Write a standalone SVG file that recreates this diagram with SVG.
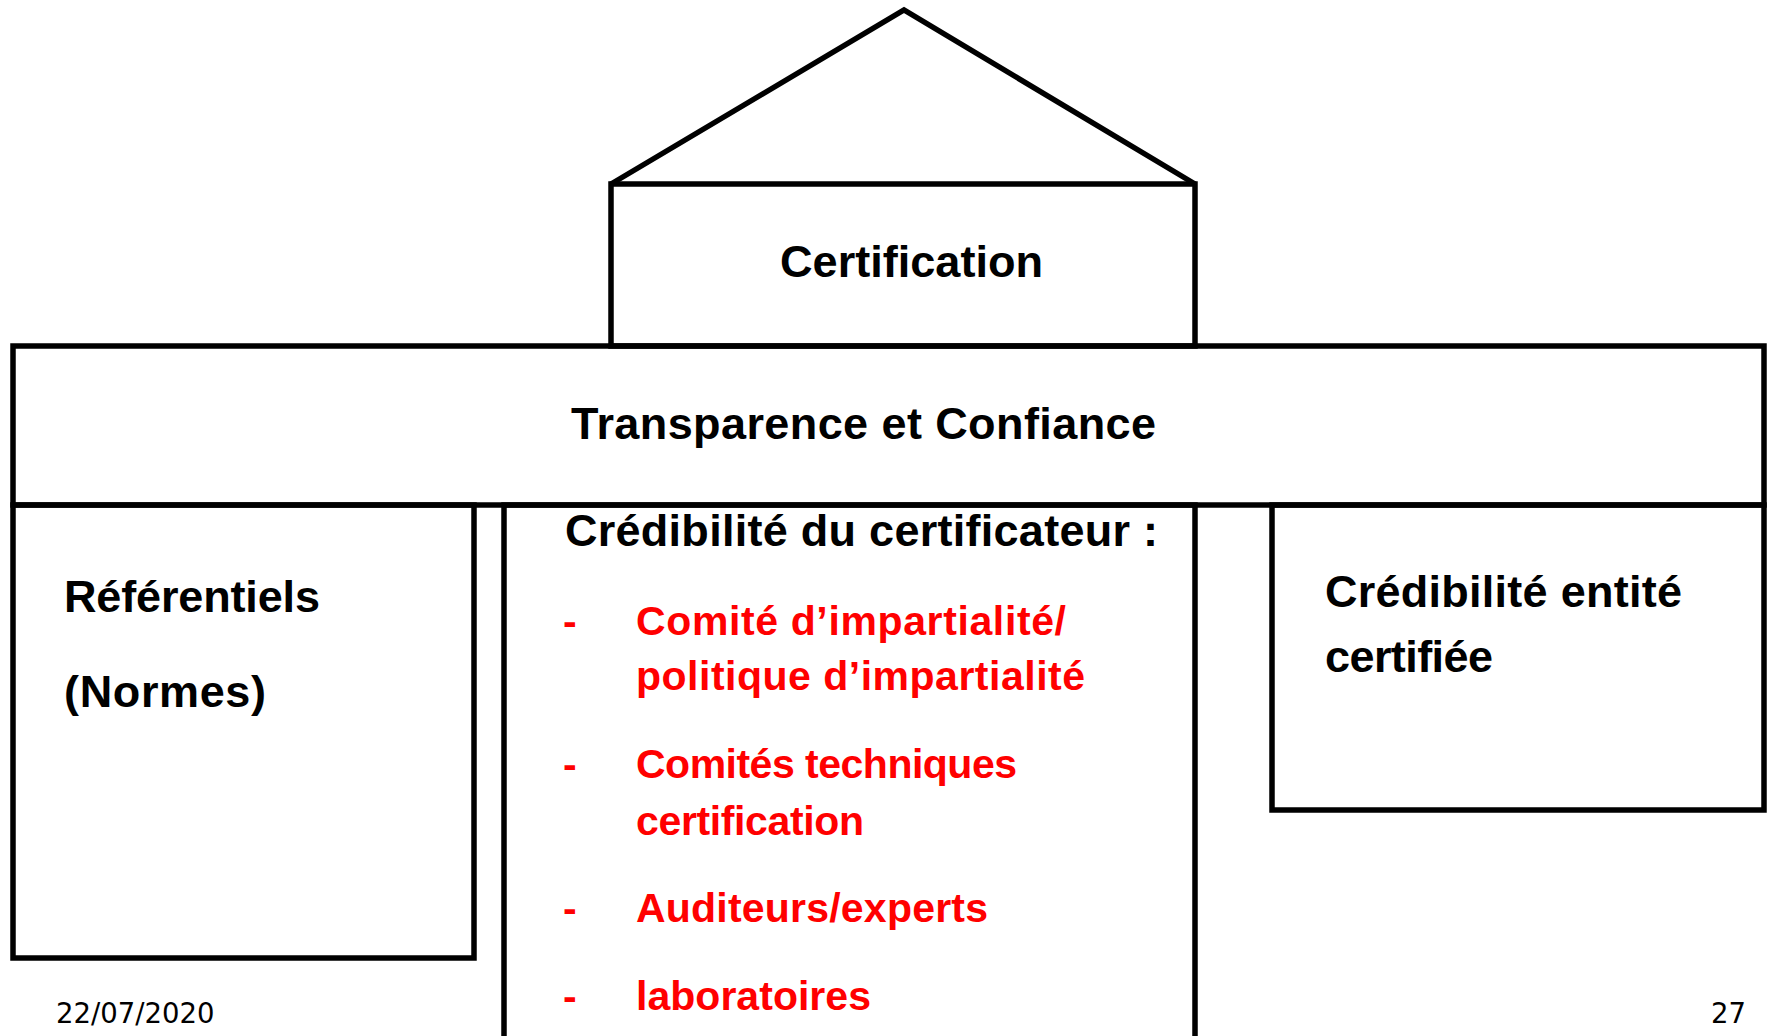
<svg xmlns="http://www.w3.org/2000/svg" width="1768" height="1036" viewBox="0 0 1768 1036">
<style>
.box{fill:none;stroke:#000;stroke-width:5.5;stroke-linejoin:miter}
.t{font-family:"Liberation Sans",Arial,sans-serif;font-weight:bold;fill:#000;font-size:45px}
.r{font-family:"Liberation Sans",Arial,sans-serif;font-weight:bold;fill:#FF0000;font-size:41px}
.f{font-family:"DejaVu Sans",Verdana,sans-serif;fill:#000;font-size:27.5px}
</style>
<rect width="1768" height="1036" fill="#fff"/>
<g id="certification">
<polyline class="box" points="611,184 904,10 1195,184"/>
<rect class="box" x="611" y="184" width="584" height="162"/>
<text class="t" x="780" y="277" textLength="263" lengthAdjust="spacingAndGlyphs">Certification</text>
</g>
<g id="transparence">
<rect class="box" x="13" y="346" width="1751" height="159"/>
<text class="t" x="571" y="439" font-size="46" textLength="585">Transparence et Confiance</text>
</g>
<g id="referentiels">
<rect class="box" x="13" y="505" width="461" height="453"/>
<text class="t" x="64" y="612" textLength="256">Référentiels</text>
<text class="t" x="64" y="707" textLength="202">(Normes)</text>
</g>
<g id="credibilite-certificateur">
<path class="box" d="M504,1040 V505 H1195 V1040"/>
<text class="t" x="565" y="546" textLength="593">Crédibilité du certificateur :</text>
<text class="r" x="563" y="635">-</text>
<text class="r" x="636" y="635" textLength="430">Comité d’impartialité/</text>
<text class="r" x="636" y="690" textLength="449">politique d’impartialité</text>
<text class="r" x="563" y="778">-</text>
<text class="r" x="636" y="778" textLength="381">Comités techniques</text>
<text class="r" x="636" y="835" textLength="228">certification</text>
<text class="r" x="563" y="922">-</text>
<text class="r" x="636" y="922" textLength="352">Auditeurs/experts</text>
<text class="r" x="563" y="1010">-</text>
<text class="r" x="636" y="1010" textLength="235">laboratoires</text>
</g>
<g id="credibilite-entite">
<rect class="box" x="1272" y="505" width="492" height="305"/>
<text class="t" x="1325" y="607" textLength="357">Crédibilité entité</text>
<text class="t" x="1325" y="672" textLength="168">certifiée</text>
</g>
<g id="connectors"/>
<g id="footer">
<text class="f" x="56" y="1023">22/07/2020</text>
<text class="f" x="1711" y="1023">27</text>
</g>
</svg>
